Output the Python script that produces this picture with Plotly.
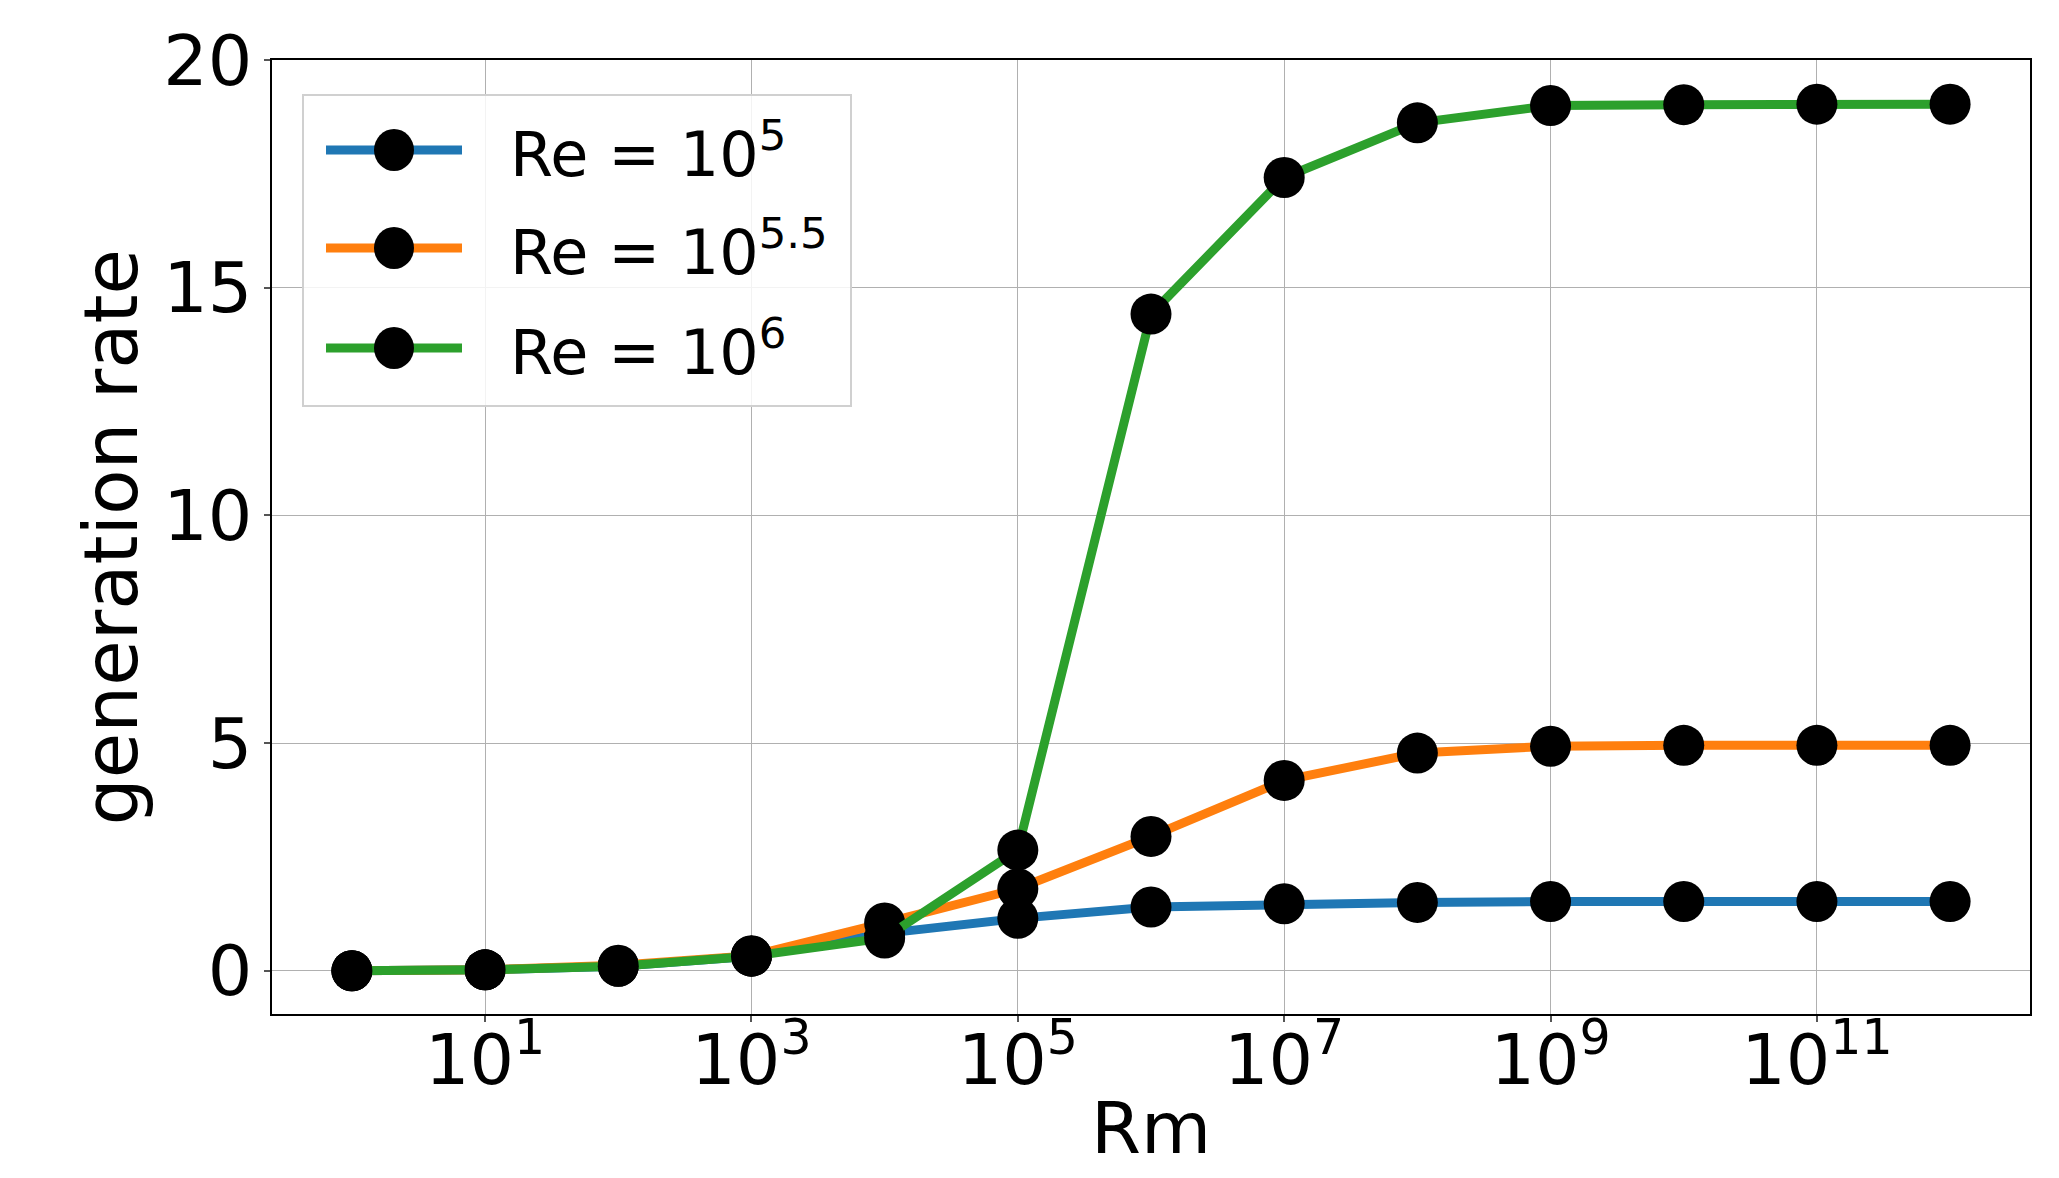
import plotly.graph_objects as go

# ---- data ----
rm = [1e0, 1e1, 1e2, 1e3, 1e4, 1e5, 1e6, 1e7, 1e8, 1e9, 1e10, 1e11, 1e12]
re_1e5 = [0.0, 0.02, 0.1, 0.32, 0.82, 1.15, 1.40, 1.47, 1.50, 1.52, 1.52, 1.52, 1.52]
re_1e55 = [0.0, 0.02, 0.12, 0.33, 1.05, 1.80, 2.95, 4.18, 4.78, 4.93, 4.95, 4.95, 4.95]
re_1e6 = [0.0, 0.02, 0.10, 0.32, 0.72, 2.65, 14.42, 17.42, 18.62, 19.00, 19.02, 19.03, 19.03]
series_names = ["Re = 10<sup>5</sup>", "Re = 10<sup>5.5</sup>", "Re = 10<sup>6</sup>"]
series_colors = ["#1f77b4", "#ff7f0e", "#2ca02c"]
x_tickvals = [1e1, 1e3, 1e5, 1e7, 1e9, 1e11]
x_ticktext = ["10<sup>1</sup>", "10<sup>3</sup>", "10<sup>5</sup>", "10<sup>7</sup>",
              "10<sup>9</sup>", "10<sup>11</sup>"]
y_tickvals = [0, 5, 10, 15, 20]

FONT = "DejaVu Sans"
OFF = 8  # default page body margin
W, H = 2043, 1162
ML, MR, MT, MB = 264, 21, 52, 156

fig = go.Figure()
for name, ys, col in zip(series_names, [re_1e5, re_1e55, re_1e6], series_colors):
    fig.add_trace(go.Scatter(
        x=rm, y=ys, name=name, mode="lines+markers",
        line=dict(color=col, width=9),
        marker=dict(color="black", size=41),
        showlegend=False,
    ))

# ---- custom legend (matplotlib style) ----
pw = W - ML - MR
ph = H - MT - MB
def px2paper_x(px):
    return (px - OFF - ML) / pw
def px2paper_y(py):
    return (H + OFF - MB - py) / ph

shapes = []
bx0, bx1 = px2paper_x(303), px2paper_x(851)
by0, by1 = px2paper_y(406), px2paper_y(95)
shapes.append(dict(type="rect", xref="paper", yref="paper", x0=bx0, x1=bx1, y0=by0, y1=by1,
                   line=dict(color="#d0d0d0", width=2), fillcolor="rgba(255,255,255,0.85)",
                   layer="above"))
row_py = [150, 248, 348]
annotations = []
for name, col, py in zip(series_names, series_colors, row_py):
    yp = px2paper_y(py)
    shapes.append(dict(type="line", xref="paper", yref="paper",
                       x0=px2paper_x(326), x1=px2paper_x(462), y0=yp, y1=yp,
                       line=dict(color=col, width=9), layer="above"))
    shapes.append(dict(type="circle", xref="paper", yref="paper",
                       xsizemode="pixel", ysizemode="pixel",
                       xanchor=px2paper_x(394), yanchor=yp,
                       x0=-20, x1=20, y0=-21, y1=21,
                       fillcolor="black", line=dict(color="black", width=0), layer="above"))
    annotations.append(dict(xref="paper", yref="paper", x=px2paper_x(508), y=yp,
                            xanchor="left", yanchor="middle", showarrow=False,
                            text=name, font=dict(family=FONT, size=62, color="black")))

fig.update_layout(
    width=W, height=H,
    margin=dict(l=ML, r=MR, t=MT, b=MB, pad=0, autoexpand=False),
    paper_bgcolor="white", plot_bgcolor="white",
    font=dict(family=FONT, color="black"),
    shapes=shapes, annotations=annotations,
    showlegend=False,
)
fig.update_xaxes(
    type="log", range=[-0.6, 12.6], automargin=True,
    tickvals=x_tickvals, ticktext=x_ticktext,
    tickfont=dict(family=FONT, size=70, color="black"),
    ticks="outside", ticklen=6, tickwidth=1.5, tickcolor="#555555",
    ticklabelposition="outside", ticklabelstandoff=-22,
    showgrid=True, gridcolor="#b0b0b0", gridwidth=1.2,
    showline=True, linecolor="black", linewidth=1.5, mirror=True,
    zeroline=False,
    title=dict(text="Rm", font=dict(family=FONT, size=72, color="black"), standoff=28),
)
fig.update_yaxes(
    range=[-0.95, 20.0], automargin=True,
    tickvals=y_tickvals,
    tickfont=dict(family=FONT, size=70, color="black"),
    ticks="outside", ticklen=6, tickwidth=1.5, tickcolor="#555555",
    ticklabelposition="outside", ticklabelstandoff=-2,
    showgrid=True, gridcolor="#b0b0b0", gridwidth=1.2,
    showline=True, linecolor="black", linewidth=1.5, mirror=True,
    zeroline=False,
    title=dict(text="generation rate", font=dict(family=FONT, size=74, color="black"), standoff=1),
)

fig.write_html("out.html")
